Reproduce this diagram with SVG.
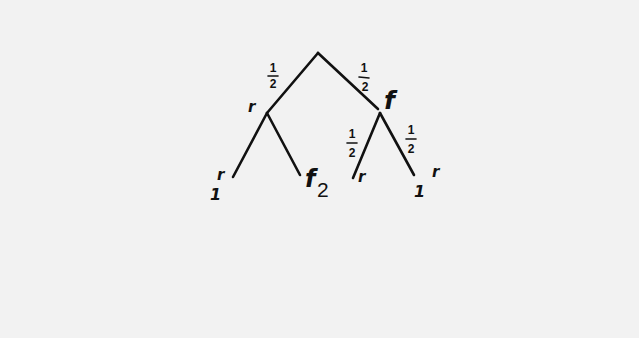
<svg xmlns="http://www.w3.org/2000/svg" width="639" height="338" viewBox="0 0 639 338">
<style>
.e{stroke:#111;stroke-width:2.6;stroke-linecap:round;fill:none}
.bar{stroke:#111;stroke-width:1.6;stroke-linecap:round}
.t{font-family:"DejaVu Sans",sans-serif;font-style:italic;font-weight:bold;fill:#111}
.n{font-family:"Liberation Sans",sans-serif;font-weight:bold;fill:#111;font-size:12px;text-anchor:middle}
</style>
<rect width="639" height="338" fill="#f2f2f2"/>
<g id="connectors">
<path class="e" d="M318,53 L267,113"/>
<path class="e" d="M318,53 L378,109"/>
<path class="e" d="M267,113 L233,177"/>
<path class="e" d="M267,113 L300,175"/>
<path class="e" d="M380,113 L353,178"/>
<path class="e" d="M380,113 L414,175"/>
</g>
<g id="p-root-left"><text class="n" x="273" y="72">1</text><line class="bar" x1="268" y1="76" x2="278" y2="76"/><text class="n" x="273" y="88">2</text></g>
<g id="p-root-right"><text class="n" x="364" y="72">1</text><line class="bar" x1="359" y1="77" x2="369" y2="78"/><text class="n" x="365" y="91">2</text></g>
<g id="p-f-left"><text class="n" x="352" y="138">1</text><line class="bar" x1="347" y1="143" x2="357" y2="143"/><text class="n" x="352" y="157">2</text></g>
<g id="p-f-right"><text class="n" x="411" y="134">1</text><line class="bar" x1="406" y1="139" x2="416" y2="139"/><text class="n" x="411" y="153">2</text></g>
<g id="node-r"><text class="t" x="248" y="112" font-size="15">r</text></g>
<g id="node-f"><text class="t" x="384" y="109" font-size="25">f</text></g>
<g id="leaf-r1"><text class="t" x="217" y="180" font-size="15">r</text><text class="t" x="210" y="200" font-size="16">1</text></g>
<g id="leaf-f2"><text class="t" x="305" y="187" font-size="24">f</text><text x="317" y="197" font-family="Liberation Sans,sans-serif" font-size="21" fill="#111">2</text></g>
<g id="leaf-r2"><text class="t" x="358" y="182" font-size="15">r</text></g>
<g id="leaf-r3"><text class="t" x="432" y="177" font-size="15">r</text><text class="t" x="414" y="197" font-size="16">1</text></g>
</svg>
